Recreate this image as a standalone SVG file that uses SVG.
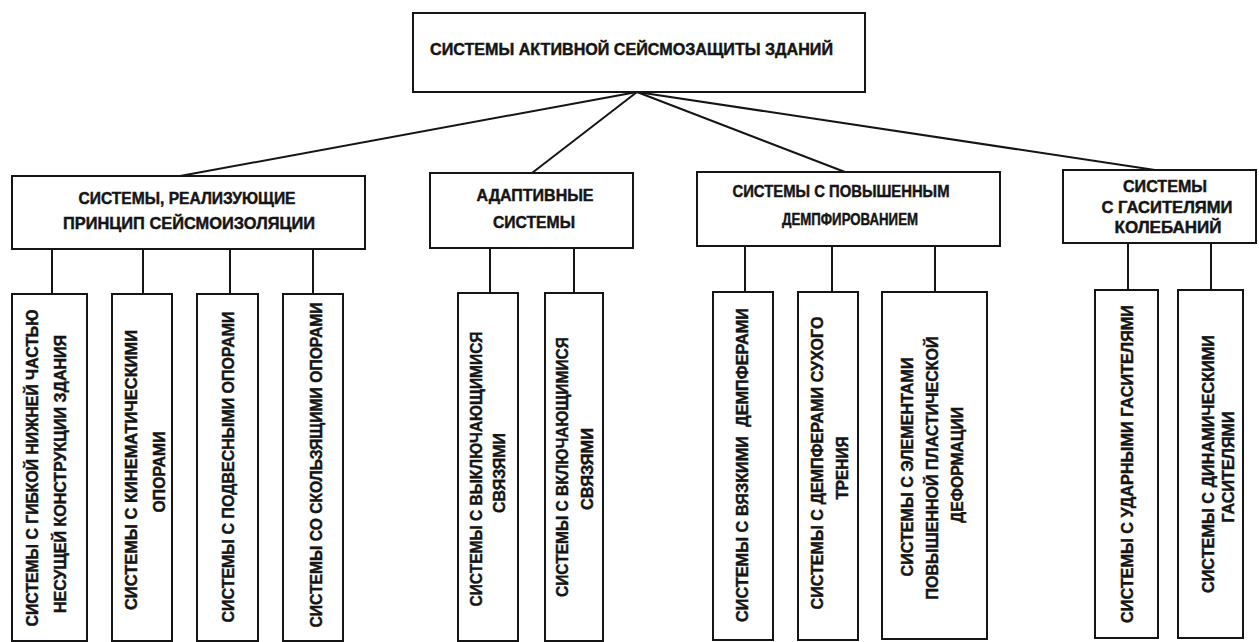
<svg xmlns="http://www.w3.org/2000/svg" width="1259" height="642" viewBox="0 0 1259 642">
<style>
.box{fill:#fff;stroke:#151515;stroke-width:2}
.con{stroke:#151515;stroke-width:2;fill:none}
text{font-family:"Liberation Sans",Arial,Helvetica,sans-serif;font-weight:bold;font-size:16.5px;fill:#151515;stroke:#151515;stroke-width:0.45;text-anchor:middle}
</style>
<rect width="1259" height="642" fill="#fff"/>
<g id="connectors" class="con">
<line x1="637" y1="92" x2="180" y2="176"/>
<line x1="637" y1="92" x2="532" y2="173"/>
<line x1="637" y1="92" x2="845" y2="172"/>
<line x1="637" y1="92" x2="1155" y2="170"/>
<line x1="52" y1="249" x2="52" y2="294"/>
<line x1="143" y1="249" x2="143" y2="294"/>
<line x1="230" y1="249" x2="230" y2="294"/>
<line x1="313" y1="249" x2="313" y2="294"/>
<line x1="490" y1="248" x2="490" y2="293"/>
<line x1="574" y1="248" x2="574" y2="293"/>
<line x1="745" y1="246" x2="745" y2="292"/>
<line x1="832" y1="246" x2="832" y2="292"/>
<line x1="935" y1="246" x2="935" y2="292"/>
<line x1="1128" y1="243" x2="1128" y2="290"/>
<line x1="1211" y1="243" x2="1211" y2="290"/>
</g>
<g id="root">
<rect class="box" x="413" y="13" width="452" height="79"/>
<text x="631.5" y="55" textLength="403" lengthAdjust="spacingAndGlyphs">СИСТЕМЫ АКТИВНОЙ СЕЙСМОЗАЩИТЫ ЗДАНИЙ</text>
</g>
<g id="seismoisolation">
<rect class="box" x="12" y="176" width="353" height="73"/>
<text x="187" y="204" textLength="217" lengthAdjust="spacingAndGlyphs">СИСТЕМЫ, РЕАЛИЗУЮЩИЕ</text>
<text x="189" y="229" textLength="252" lengthAdjust="spacingAndGlyphs">ПРИНЦИП СЕЙСМОИЗОЛЯЦИИ</text>
</g>
<g id="adaptive">
<rect class="box" x="430" y="173" width="203" height="75"/>
<text x="535" y="201" textLength="117" lengthAdjust="spacingAndGlyphs">АДАПТИВНЫЕ</text>
<text x="534" y="228" textLength="82" lengthAdjust="spacingAndGlyphs">СИСТЕМЫ</text>
</g>
<g id="damping">
<rect class="box" x="697" y="172" width="303" height="74"/>
<text x="841" y="197" textLength="217" lengthAdjust="spacingAndGlyphs">СИСТЕМЫ С ПОВЫШЕННЫМ</text>
<text x="850" y="225" textLength="136" lengthAdjust="spacingAndGlyphs">ДЕМПФИРОВАНИЕМ</text>
</g>
<g id="absorbers">
<rect class="box" x="1063" y="170" width="193" height="73"/>
<text x="1165" y="192" textLength="84" lengthAdjust="spacingAndGlyphs">СИСТЕМЫ</text>
<text x="1167" y="213" textLength="131" lengthAdjust="spacingAndGlyphs">С ГАСИТЕЛЯМИ</text>
<text x="1168" y="233" textLength="107" lengthAdjust="spacingAndGlyphs">КОЛЕБАНИЙ</text>
</g>
<g id="flexible-lower">
<rect class="box" x="12" y="294" width="75" height="347"/>
<text transform="translate(32,468) rotate(-90)" y="5.9" textLength="317" lengthAdjust="spacingAndGlyphs">СИСТЕМЫ С ГИБКОЙ НИЖНЕЙ ЧАСТЬЮ</text>
<text transform="translate(60,474) rotate(-90)" y="5.9" textLength="278" lengthAdjust="spacingAndGlyphs">НЕСУЩЕЙ КОНСТРУКЦИИ ЗДАНИЯ</text>
</g>
<g id="kinematic">
<rect class="box" x="112" y="294" width="60" height="347"/>
<text transform="translate(131,470) rotate(-90)" y="5.9" textLength="280" lengthAdjust="spacingAndGlyphs">СИСТЕМЫ С КИНЕМАТИЧЕСКИМИ</text>
<text transform="translate(159,472) rotate(-90)" y="5.9" textLength="81" lengthAdjust="spacingAndGlyphs">ОПОРАМИ</text>
</g>
<g id="suspended">
<rect class="box" x="197" y="294" width="61" height="347"/>
<text transform="translate(228,467) rotate(-90)" y="5.9" textLength="311" lengthAdjust="spacingAndGlyphs">СИСТЕМЫ С ПОДВЕСНЫМИ ОПОРАМИ</text>
</g>
<g id="sliding">
<rect class="box" x="283" y="294" width="60" height="347"/>
<text transform="translate(316,465) rotate(-90)" y="5.9" textLength="325" lengthAdjust="spacingAndGlyphs">СИСТЕМЫ СО СКОЛЬЗЯЩИМИ ОПОРАМИ</text>
</g>
<g id="switching-off">
<rect class="box" x="458" y="293" width="60" height="348"/>
<text transform="translate(476,469) rotate(-90)" y="5.9" textLength="275" lengthAdjust="spacingAndGlyphs">СИСТЕМЫ С ВЫКЛЮЧАЮЩИМИСЯ</text>
<text transform="translate(499,473) rotate(-90)" y="5.9" textLength="80" lengthAdjust="spacingAndGlyphs">СВЯЗЯМИ</text>
</g>
<g id="switching-on">
<rect class="box" x="545" y="293" width="58" height="348"/>
<text transform="translate(562,467) rotate(-90)" y="5.9" textLength="260" lengthAdjust="spacingAndGlyphs">СИСТЕМЫ С ВКЛЮЧАЮЩИМИСЯ</text>
<text transform="translate(587,469) rotate(-90)" y="5.9" textLength="82" lengthAdjust="spacingAndGlyphs">СВЯЗЯМИ</text>
</g>
<g id="viscous">
<rect class="box" x="713" y="292" width="60" height="348"/>
<text transform="translate(742,465) rotate(-90)" y="5.9" textLength="314" lengthAdjust="spacingAndGlyphs" xml:space="preserve">СИСТЕМЫ С ВЯЗКИМИ  ДЕМПФЕРАМИ</text>
</g>
<g id="dry-friction">
<rect class="box" x="798" y="292" width="60" height="348"/>
<text transform="translate(817,463) rotate(-90)" y="5.9" textLength="293" lengthAdjust="spacingAndGlyphs">СИСТЕМЫ С ДЕМПФЕРАМИ СУХОГО</text>
<text transform="translate(842,468) rotate(-90)" y="5.9" textLength="63" lengthAdjust="spacingAndGlyphs">ТРЕНИЯ</text>
</g>
<g id="plastic">
<rect class="box" x="882" y="292" width="105" height="347"/>
<text transform="translate(907,467) rotate(-90)" y="5.9" textLength="219" lengthAdjust="spacingAndGlyphs">СИСТЕМЫ С ЭЛЕМЕНТАМИ</text>
<text transform="translate(932,468) rotate(-90)" y="5.9" textLength="263" lengthAdjust="spacingAndGlyphs">ПОВЫШЕННОЙ ПЛАСТИЧЕСКОЙ</text>
<text transform="translate(957,465) rotate(-90)" y="5.9" textLength="116" lengthAdjust="spacingAndGlyphs">ДЕФОРМАЦИИ</text>
</g>
<g id="impact">
<rect class="box" x="1095" y="290" width="63" height="348"/>
<text transform="translate(1127,464) rotate(-90)" y="5.9" textLength="318" lengthAdjust="spacingAndGlyphs">СИСТЕМЫ С УДАРНЫМИ ГАСИТЕЛЯМИ</text>
</g>
<g id="dynamic">
<rect class="box" x="1178" y="290" width="65" height="348"/>
<text transform="translate(1208,464) rotate(-90)" y="5.9" textLength="258" lengthAdjust="spacingAndGlyphs">СИСТЕМЫ С ДИНАМИЧЕСКИМИ</text>
<text transform="translate(1228,467) rotate(-90)" y="5.9" textLength="111" lengthAdjust="spacingAndGlyphs">ГАСИТЕЛЯМИ</text>
</g>
</svg>
